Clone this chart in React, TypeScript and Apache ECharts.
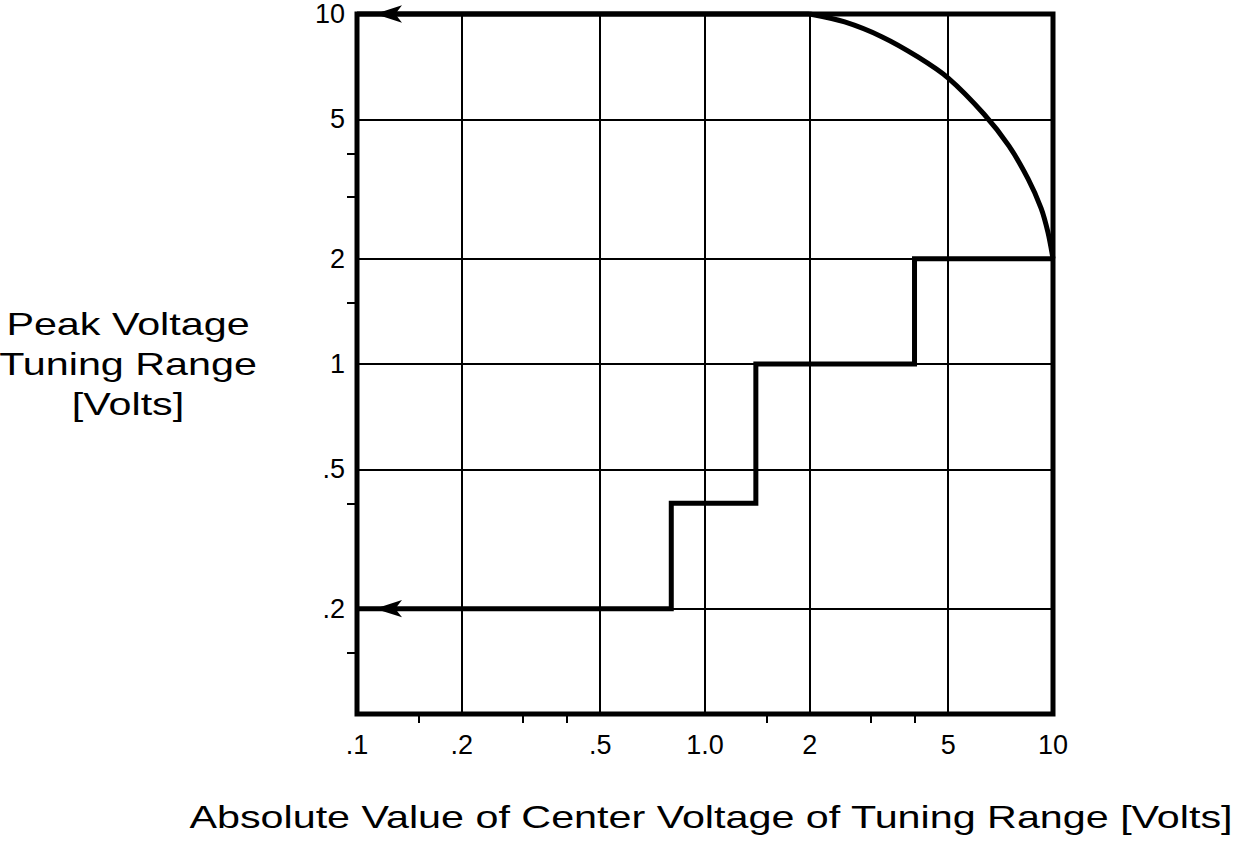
import React, { useEffect, useRef } from "react";
import * as echarts from "echarts";

// ---- data ----
const xTickValues = [0.1, 0.2, 0.5, 1, 2, 5, 10];
const xTickLabels = [".1", ".2", ".5", "1.0", "2", "5", "10"];
const xMinorTickValues = [0.15, 0.3, 0.4, 1.5, 3, 4];

const yTickValues = [0.2, 0.5, 1, 2, 5, 10];
const yTickLabels = [".2", ".5", "1", "2", "5", "10"];
const yMinorTickValues = [0.15, 0.4, 1.5, 3, 4];

// upper limit: flat part then rounded envelope
const upperFlatX = [0.1, 2];
const upperFlatY = [10, 10];
const upperCurveX = [2, 2.52, 3.23, 4.09, 5, 6.33, 7.47, 8.48, 9.24, 9.67, 10];
const upperCurveY = [10, 9.49, 8.6, 7.54, 6.56, 5.18, 4.2, 3.38, 2.79, 2.38, 2];

// lower limit: staircase
const stepX = [0.1, 0.8, 0.8, 1.4, 1.4, 4, 4, 10];
const stepY = [0.2, 0.2, 0.4, 0.4, 1, 1, 2, 2];

const xTitle = "Absolute Value of Center Voltage of Tuning Range [Volts]";
const yTitleLines = ["Peak Voltage", "Tuning Range", "[Volts]"];

const FONT = "Liberation Sans, Arial, Helvetica, sans-serif";

const lg = (v: number) => Math.round(Math.log10(v) * 1e9) / 1e9;

function labelFor(values: number[], labels: string[]) {
  return (val: number) => {
    let best = 0;
    let bd = Infinity;
    values.forEach((v, i) => {
      const d = Math.abs(lg(v) - val);
      if (d < bd) {
        bd = d;
        best = i;
      }
    });
    return labels[best];
  };
}

const arrowItem = (x: number, y: number) => ({
  value: [x, y],
  symbol: "arrow",
  symbolSize: [13, 27],
  symbolRotate: 90,
  symbolOffset: [18, 0],
  itemStyle: { color: "#000" },
});

export default function App() {
  const ref = useRef<HTMLDivElement>(null);

  useEffect(() => {
    if (!ref.current) return;
    const chart = echarts.init(ref.current, undefined, { renderer: "svg" });

    const grid = { left: 357, top: 14, width: 696, height: 700 };

    const option: any = {
      animation: false,
      backgroundColor: "#fff",
      grid: {
        ...grid,
        show: true,
        borderColor: "#000",
        borderWidth: 5,
        backgroundColor: "transparent",
      },
      xAxis: [
        {
          type: "log",
          logBase: 10,
          min: 0.1,
          max: 10,
          show: false,
        },
        {
          type: "value",
          min: -1,
          max: 1,
          position: "bottom",
          axisLine: { show: false },
          axisTick: {
            show: true,
            length: 9,
            lineStyle: { color: "#000", width: 2 },
            customValues: xTickValues.map(lg),
          },
          axisLabel: {
            show: true,
            customValues: xTickValues.map(lg),
            formatter: labelFor(xTickValues, xTickLabels),
            color: "#000",
            fontFamily: FONT,
            fontSize: 27,
            margin: 17,
          },
          splitLine: { show: true, lineStyle: { color: "#000", width: 2 } },
        },
        {
          type: "value",
          min: -1,
          max: 1,
          position: "bottom",
          axisLine: { show: false },
          axisTick: {
            show: true,
            length: 9,
            lineStyle: { color: "#000", width: 2 },
            customValues: xMinorTickValues.map(lg),
          },
          axisLabel: { show: false },
          splitLine: { show: false },
        },
      ],
      yAxis: [
        {
          type: "log",
          logBase: 10,
          min: 0.1,
          max: 10,
          show: false,
        },
        {
          type: "value",
          min: -1,
          max: 1,
          position: "left",
          axisLine: { show: false },
          axisTick: {
            show: true,
            length: 10,
            lineStyle: { color: "#000", width: 2 },
            customValues: yTickValues.map(lg),
          },
          axisLabel: {
            show: true,
            customValues: yTickValues.map(lg),
            formatter: labelFor(yTickValues, yTickLabels),
            color: "#000",
            fontFamily: FONT,
            fontSize: 27,
            margin: 12,
          },
          splitLine: { show: true, lineStyle: { color: "#000", width: 2 } },
        },
        {
          type: "value",
          min: -1,
          max: 1,
          position: "left",
          axisLine: { show: false },
          axisTick: {
            show: true,
            length: 10,
            lineStyle: { color: "#000", width: 2 },
            customValues: yMinorTickValues.map(lg),
          },
          axisLabel: { show: false },
          splitLine: { show: false },
        },
      ],
      series: [
        {
          name: "upper-flat",
          type: "line",
          xAxisIndex: 0,
          yAxisIndex: 0,
          clip: false,
          symbol: "none",
          lineStyle: { color: "#000", width: 5 },
          data: upperFlatX.map((x, i) =>
            i === 0 ? arrowItem(x, upperFlatY[i]) : [x, upperFlatY[i]]
          ),
          z: 5,
        },
        {
          name: "upper-curve",
          type: "line",
          xAxisIndex: 0,
          yAxisIndex: 0,
          clip: false,
          symbol: "none",
          smooth: 0.3,
          lineStyle: { color: "#000", width: 5 },
          data: upperCurveX.map((x, i) => [x, upperCurveY[i]]),
          z: 5,
        },
        {
          name: "lower-step",
          type: "line",
          xAxisIndex: 0,
          yAxisIndex: 0,
          clip: false,
          symbol: "none",
          lineStyle: { color: "#000", width: 5, join: "miter" },
          data: stepX.map((x, i) =>
            i === 0 ? arrowItem(x, stepY[i]) : [x, stepY[i]]
          ),
          z: 5,
        },
      ],
      graphic: [
        {
          type: "text",
          x: 711,
          y: 817,
          scaleX: 1.29,
          style: {
            text: xTitle,
            fontFamily: FONT,
            fontSize: 32,
            fill: "#000",
            align: "center",
            verticalAlign: "middle",
          },
        },
        {
          type: "text",
          x: 128,
          y: 364,
          scaleX: 1.29,
          style: {
            text: yTitleLines.join("\n"),
            fontFamily: FONT,
            fontSize: 32,
            lineHeight: 40,
            fill: "#000",
            align: "center",
            verticalAlign: "middle",
          },
        },
      ],
    };

    chart.setOption(option);
    return () => chart.dispose();
  }, []);

  return (
    <div
      ref={ref}
      style={{
        position: "fixed",
        left: 0,
        top: 0,
        width: 1241,
        height: 851,
        background: "#fff",
      }}
    />
  );
}
